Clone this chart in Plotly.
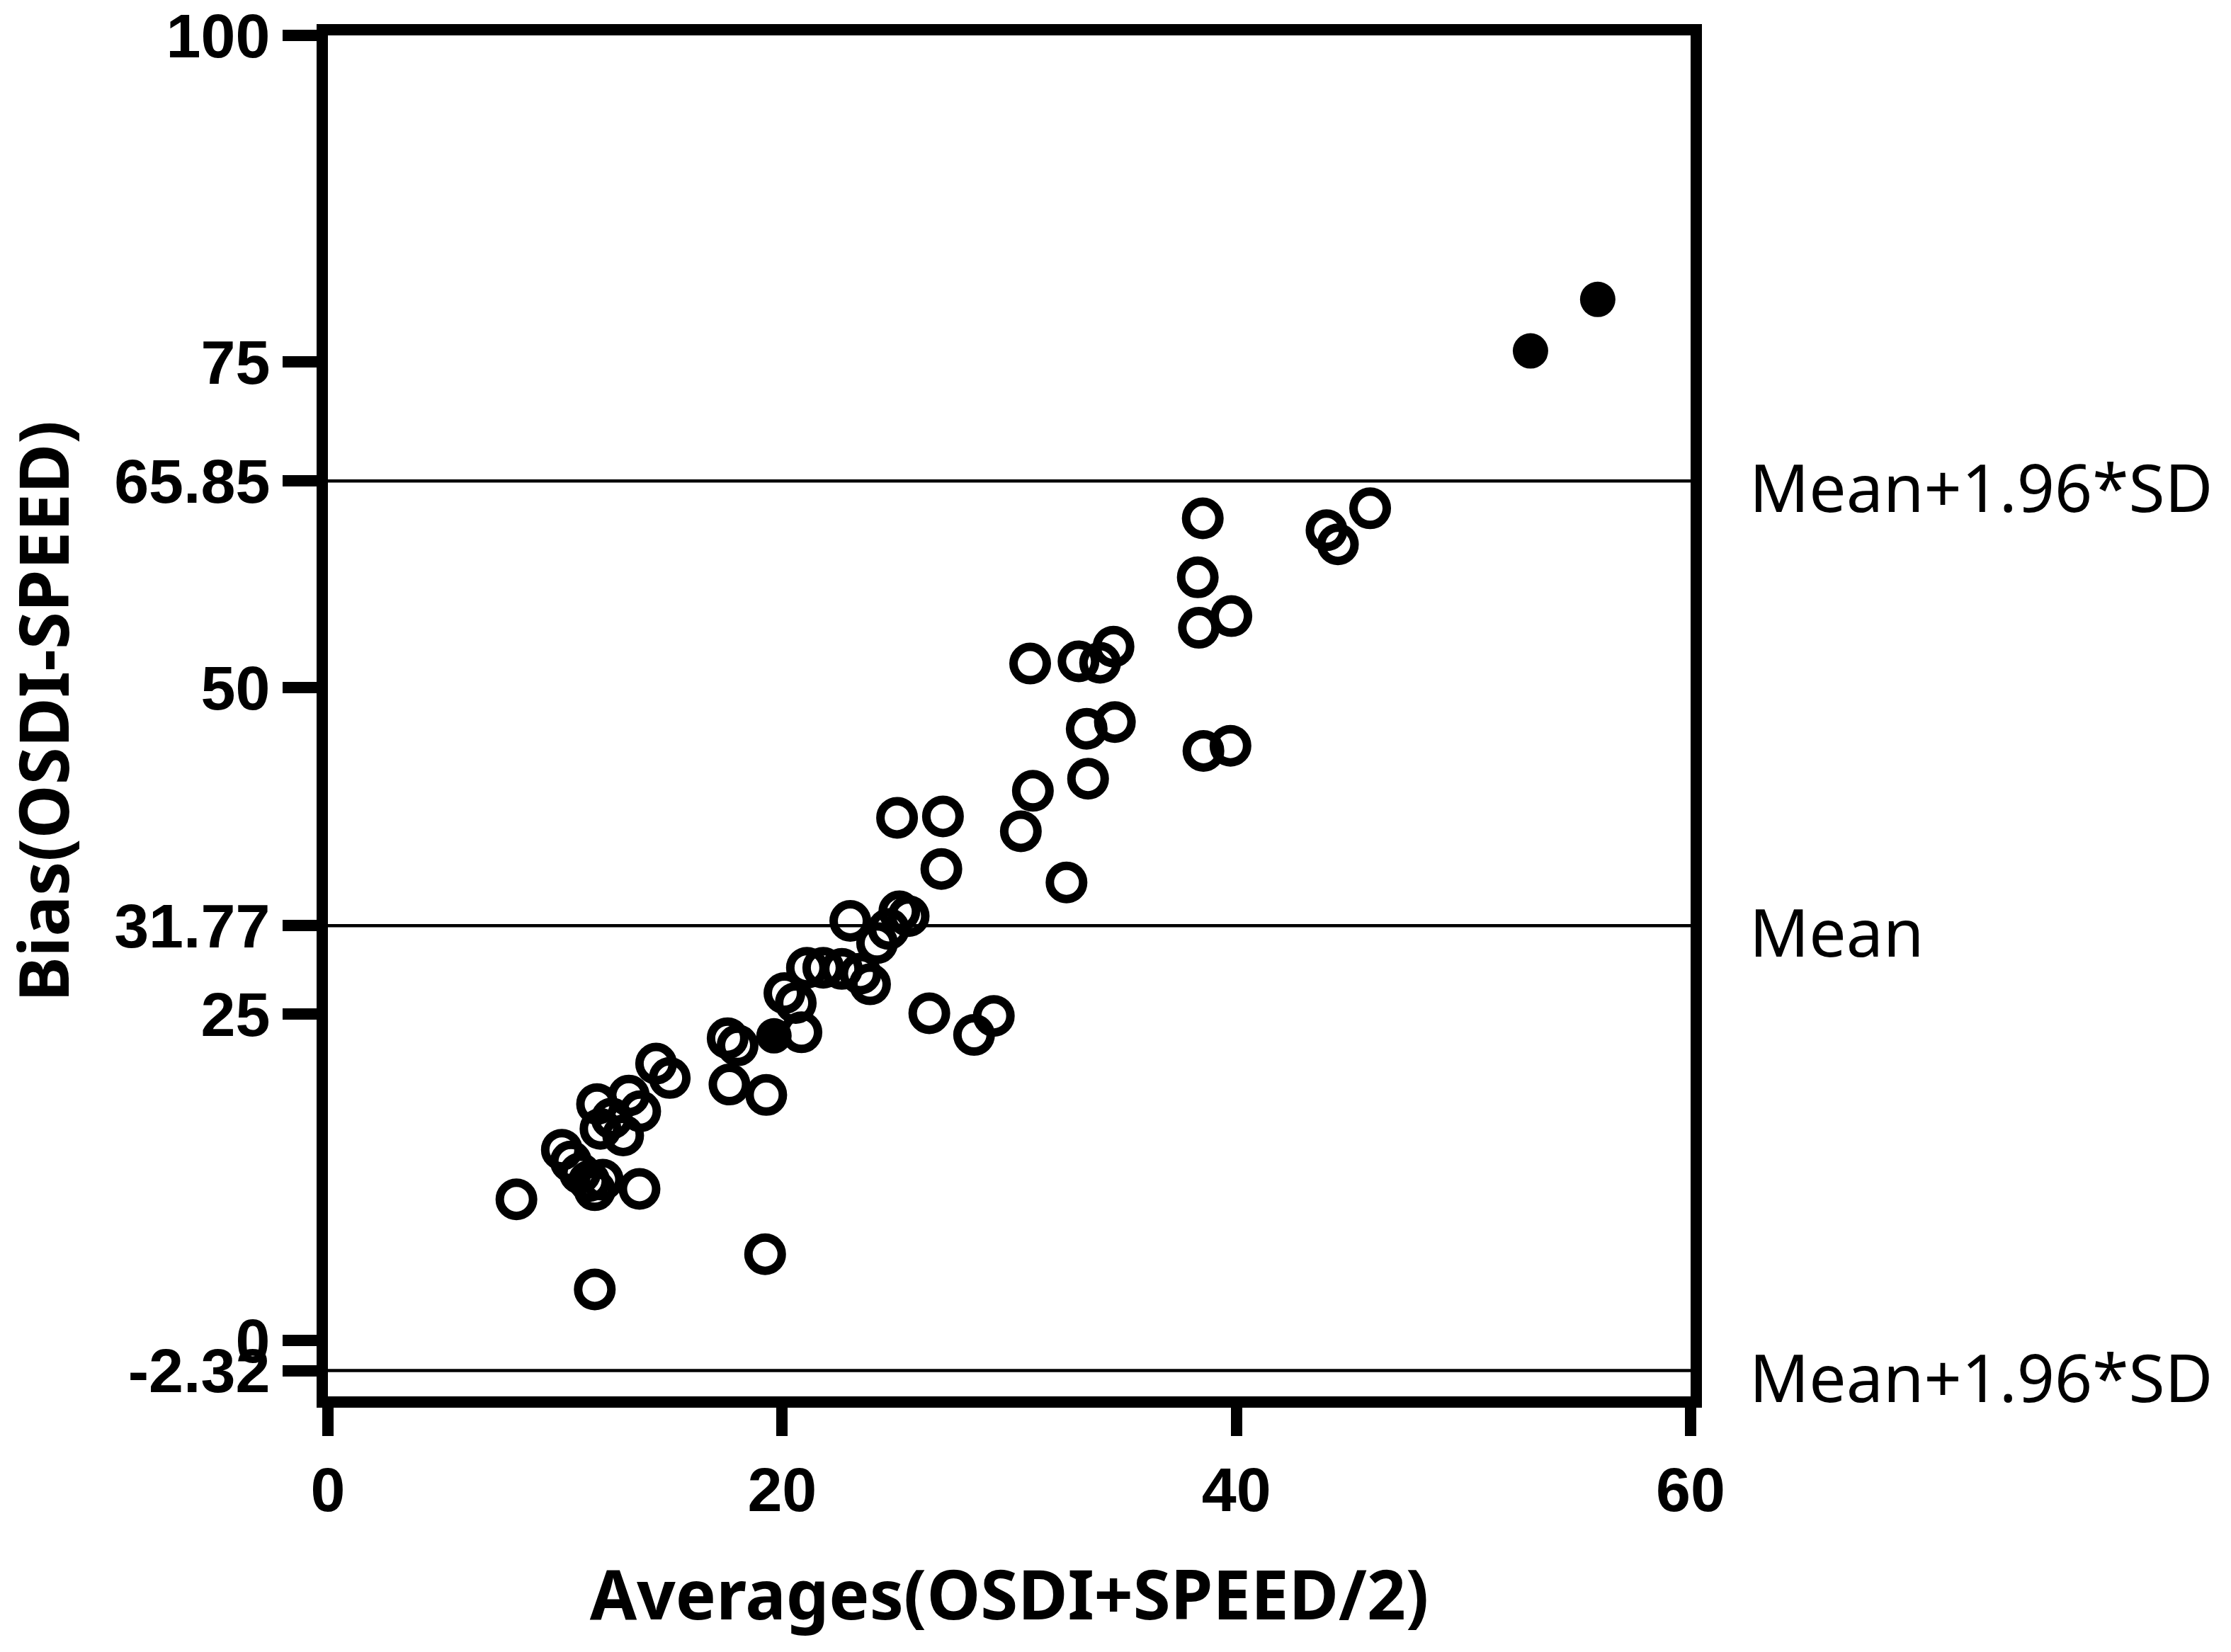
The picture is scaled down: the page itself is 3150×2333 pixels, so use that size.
import plotly.graph_objects as go

# Bland-Altman: averages (x) vs differences (y)
avg_open = [8.3, 10.3, 10.7, 11.1, 11.5, 11.75, 12.1, 13.72, 11.75,
            11.85, 12.5, 12.0, 13.0, 13.25, 13.75, 14.45, 15.05,
            17.6, 18.04, 17.68, 19.3, 19.25, 20.1, 20.6, 20.85,
            21.09, 21.81, 22.63, 23.45, 23.87, 23.0, 24.18, 24.69, 25.16, 25.57,
            25.06, 27.08, 27.01, 26.48, 29.32, 28.45,
            30.51, 31.04, 32.52, 30.92, 33.05, 34.0, 34.59, 33.41, 34.65, 33.47,
            38.52, 38.3, 38.35, 39.78, 38.55, 39.74, 43.97, 44.47, 45.89]
bias_open = [10.8, 14.6, 13.7, 12.8, 12.2, 11.5, 12.3, 11.6, 3.9,
             18.1, 17.0, 16.2, 15.7, 18.75, 17.55, 21.2, 20.1,
             23.15, 22.6, 19.6, 18.8, 6.6, 26.6, 25.85, 23.6,
             28.55, 28.55, 28.46, 28.1, 27.28, 32.14, 30.44, 31.52, 32.87, 32.51,
             40.04, 40.15, 36.12, 25.06, 24.86, 23.4,
             39.01, 42.11, 35.09, 51.86, 52.03, 51.92, 53.16, 46.86, 47.38, 43.04,
             62.99, 58.47, 54.6, 55.5, 45.17, 45.56, 62.08, 61.0, 63.76]

avg_filled = [19.64, 52.95, 55.91]
bias_filled = [23.33, 75.82, 79.77]

mean_bias = 31.77
loa_upper = 65.85
loa_lower = -2.32
limit_values = [loa_upper, mean_bias, loa_lower]
limit_labels = ["Mean+1.96*SD", "Mean", "Mean+1.96*SD"]

y_ticks = [-2.32, 0, 25, 31.77, 50, 65.85, 75, 100]
y_ticktext = ["-2.32", "0", "25", "31.77", "50", "65.85", "75", "100"]
x_ticks = [0, 20, 40, 60]

fig = go.Figure()

fig.add_trace(go.Scatter(
    x=avg_open, y=bias_open, mode="markers",
    marker=dict(symbol="circle-open", size=47, color="black",
                line=dict(width=12, color="black")),
    cliponaxis=False, showlegend=False
))
fig.add_trace(go.Scatter(
    x=avg_filled, y=bias_filled, mode="markers",
    marker=dict(symbol="circle", size=50, color="black",
                line=dict(width=0)),
    cliponaxis=False, showlegend=False
))

# mean and limits of agreement
for val, lab in zip(limit_values, limit_labels):
    fig.add_shape(type="line", xref="x", yref="y", x0=0, x1=60, y0=val, y1=val,
                  line=dict(color="black", width=4.5), layer="below")
    fig.add_annotation(x=1.042, y=val, xref="paper", yref="y", text=lab,
                       showarrow=False, xanchor="left", yanchor="middle",
                       yshift=-8,
                       font=dict(family="Noto Sans", size=93, color="black"))

tick_font = dict(family="Liberation Sans", size=88, color="black", weight="bold")
title_font = dict(family="Noto Sans", size=96, color="black", weight="bold")

fig.update_xaxes(
    range=[0, 60], tickvals=x_ticks, ticktext=[str(v) for v in x_ticks],
    ticks="outside", ticklen=40, tickwidth=16, tickcolor="black",
    showline=True, linewidth=16, linecolor="black", mirror=True,
    showgrid=False, zeroline=False, tickfont=tick_font,
    ticklabeloverflow="allow",
    title=dict(text="Averages(OSDI+SPEED/2)", font=title_font, standoff=75)
)
fig.update_yaxes(
    range=[-4.3, 100], tickvals=y_ticks, ticktext=y_ticktext,
    ticks="outside", ticklen=48, tickwidth=16, tickcolor="black",
    showline=True, linewidth=16, linecolor="black", mirror=True,
    showgrid=False, zeroline=False, tickfont=tick_font,
    ticklabeloverflow="allow"
)

fig.add_annotation(x=-0.21, y=0.5036, xref="paper", yref="paper",
                   text="Bias(OSDI-SPEED)", textangle=-90, showarrow=False,
                   xanchor="center", yanchor="middle", font=title_font)

fig.update_layout(
    width=3134, height=2317,
    margin=dict(l=455, r=755, t=42, b=353, pad=0, autoexpand=False),
    plot_bgcolor="white", paper_bgcolor="white",
    showlegend=False
)

fig.write_html("out.html")
